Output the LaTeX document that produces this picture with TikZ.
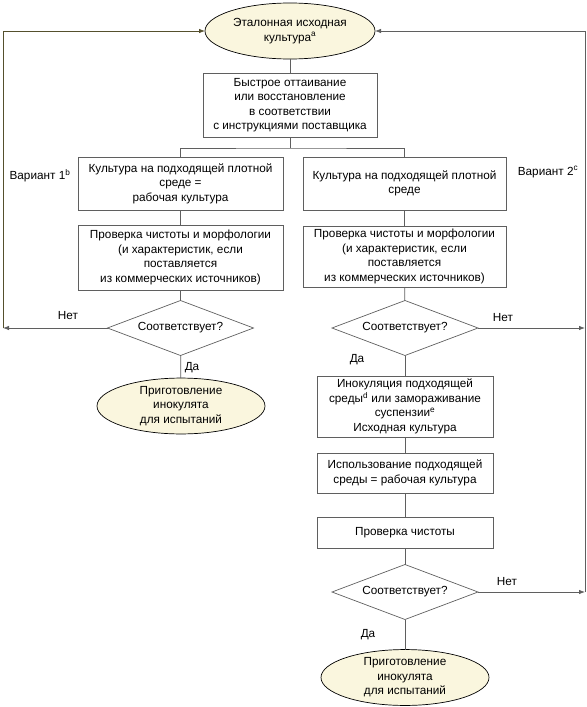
\documentclass[tikz,border=0pt]{standalone}
\usepackage{fontspec}
\setmainfont{Liberation Sans}
\usetikzlibrary{shapes.geometric,arrows.meta}
\definecolor{linec}{RGB}{95,95,95}
\definecolor{loopc}{RGB}{85,80,45}
\definecolor{creamc}{RGB}{250,246,222}
\begin{document}
\begin{tikzpicture}[x=1bp,y=-1bp,
  font=\fontsize{11.8}{14.6}\selectfont,
  every node/.style={inner sep=0pt, outer sep=0pt},
  boxst/.style={draw=linec, rectangle, align=center, line width=0.7pt},
  ellst/.style={draw=black, ellipse, fill=creamc, align=center, line width=0.7pt},
  diast/.style={draw=linec, diamond, aspect=2.6, align=center, line width=0.7pt},
  conn/.style={draw=linec, line width=0.8pt},
  arr/.style={conn, -{Latex[length=6bp,width=4.5bp]}},
  lbl/.style={font=\fontsize{11.8}{14.6}\selectfont}]
\useasboundingbox (0,0) rectangle (587,707);
% nodes
\node[ellst, minimum width=170bp, minimum height=56bp] (e1) at (290,31) {Эталонная исходная\\культура\textsuperscript{a}};
\node[boxst, minimum width=174bp, minimum height=64bp] (b1) at (290,105) {Быстрое оттаивание\\или восстановление\\в соответствии\\с инструкциями поставщика};
\node[boxst, minimum width=205bp, minimum height=53bp] (b2L) at (180.5,183.5) {Культура на подходящей плотной\\среде =\\рабочая культура};
\node[boxst, minimum width=205bp, minimum height=65bp] (b3L) at (180.5,257.5) {Проверка чистоты и морфологии\\(и характеристик, если\\поставляется\\из коммерческих источников)};
\node[diast, minimum width=146bp, minimum height=55bp] (d1L) at (180.5,328) {Соответствует?};
\node[ellst, minimum width=168bp, minimum height=53bp] (e2L) at (181,406) {Приготовление\\инокулята\\для испытаний};
\node[boxst, minimum width=203bp, minimum height=53bp] (b2R) at (404.5,183.5) {Культура на подходящей плотной\\среде};
\node[boxst, minimum width=203bp, minimum height=61bp] (b3R) at (404.5,256.5) {Проверка чистоты и морфологии\\(и характеристик, если\\поставляется\\из коммерческих источников)};
\node[diast, minimum width=146bp, minimum height=55bp] (d1R) at (405,328) {Соответствует?};
\node[boxst, minimum width=176bp, minimum height=61bp] (b4R) at (405,406.5) {Инокуляция подходящей\\среды\textsuperscript{d} или замораживание\\суспензии\textsuperscript{e}\\Исходная культура};
\node[boxst, minimum width=176bp, minimum height=40bp] (b5R) at (405,473) {Использование подходящей\\среды = рабочая культура};
\node[boxst, minimum width=176bp, minimum height=31bp] (b6R) at (405,532.5) {Проверка чистоты};
\node[diast, minimum width=146bp, minimum height=55bp] (d2R) at (405,592) {Соответствует?};
\node[ellst, minimum width=168bp, minimum height=49bp] (e2R) at (405,677.5) {Приготовление\\инокулята\\для испытаний};
% labels
\node[lbl] (v1) at (40,176) {Вариант 1\textsuperscript{b}};
\node[lbl] (v2) at (548,172) {Вариант 2\textsuperscript{c}};
\node[lbl] (n1) at (68,316) {Нет};
\node[lbl] (n2) at (503,318) {Нет};
\node[lbl] (n3) at (507,582) {Нет};
\node[lbl] (y1) at (192,368) {Да};
\node[lbl] (y2) at (357,360) {Да};
\node[lbl] (y3) at (368,635) {Да};
% coordinates
\coordinate (br) at (290,148);
\coordinate (lc) at (3,328);
\coordinate (rc1) at (585,328);
\coordinate (rc2) at (585,592);
% connectors
\draw[conn] (e1.south) -- (b1.north);
\draw[conn] (b1.south) -- (br);
\draw[conn] (b2L.north) |- (br) -| (b2R.north);
\draw[conn] (b2L) -- (b3L);
\draw[conn] (b3L) -- (d1L);
\draw[conn] (d1L) -- (e2L);
\draw[conn] (b2R) -- (b3R);
\draw[conn] (b3R) -- (d1R);
\draw[conn] (d1R) -- (b4R);
\draw[conn] (b4R) -- (b5R);
\draw[conn] (b5R) -- (b6R);
\draw[conn] (b6R) -- (d2R);
\draw[conn] (d2R) -- (e2R);
\draw[arr] (d1L.west) -- (lc);
\draw[arr, draw=loopc] (lc) |- (e1.west);
\draw[arr] (d1R.east) -- (rc1);
\draw[arr] (d2R.east) -- (rc2);
\draw[arr] (rc2) |- (e1.east);
\end{tikzpicture}
\end{document}
